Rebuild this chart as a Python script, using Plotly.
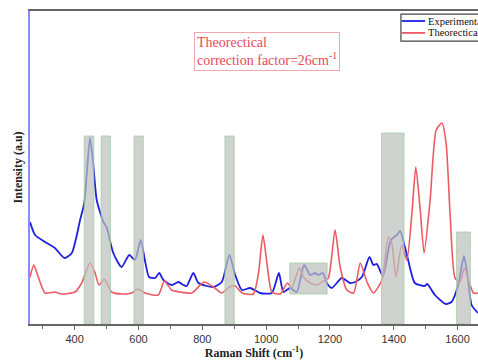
import plotly.graph_objects as go

# Experimental Raman spectrum (wavenumber, intensity in a.u.)
exp_shift = [260, 276, 307, 338, 368, 391, 417, 430, 448, 458, 469, 490, 500, 521, 547,
             571, 589, 607, 620, 633, 652, 665, 678, 704, 725, 741, 751, 772, 788, 835,
             861, 885, 903, 924, 950, 981, 1018, 1040, 1054, 1075, 1096, 1119, 1138, 1153,
             1164, 1178, 1190, 1206, 1237, 1263, 1279, 1300, 1324, 1336, 1347, 1366, 1391,
             1410, 1420, 1435, 1445, 1466, 1497, 1505, 1529, 1563, 1581, 1602, 1620, 1633,
             1644, 1664]
exp_int = [102, 89, 82, 76, 66, 71, 104, 121, 186, 161, 124, 102, 97, 71, 57,
           69, 64, 84, 64, 47, 46, 51, 44, 39, 42, 39, 38, 51, 41, 37,
           42, 69, 49, 34, 36, 31, 31, 51, 32, 36, 32, 59, 49, 51,
           49, 51, 41, 36, 46, 41, 42, 47, 67, 59, 60, 48, 84,
           89, 93, 77, 64, 41, 38, 40, 29, 20, 22, 39, 68, 44,
           19, 11]

# Theoretical (scaled) spectrum
theo_shift = [260, 272, 286, 307, 338, 359, 401, 422, 448, 464, 476, 493, 516, 548, 579,
              598, 620, 662, 681, 704, 730, 767, 806, 835, 861, 885, 903, 924, 960, 976,
              990, 1004, 1018, 1044, 1067, 1080, 1104, 1117, 1138, 1159, 1180, 1195, 1216,
              1232, 1253, 1274, 1295, 1316, 1336, 1363, 1383, 1394, 1407, 1425, 1441, 1457,
              1469, 1483, 1495, 1514, 1533, 1551, 1564, 1577, 1592, 1608, 1621, 1634, 1650,
              1664]
theo_int = [47, 59, 47, 31, 32, 30, 32, 41, 61, 51, 39, 45, 32, 30, 31,
            35, 31, 29, 43, 34, 32, 31, 42, 37, 31, 37, 38, 31, 30, 51,
            89, 57, 32, 30, 41, 36, 56, 47, 41, 39, 43, 46, 94,
            57, 34, 31, 61, 42, 31, 44, 87, 81, 47, 79, 64, 111,
            157, 114, 71, 124, 194, 201, 181, 107, 46, 42, 56, 44, 31,
            31]

# Highlighted matching bands
band_start = [430, 483, 586, 871, 1074, 1362, 1597]
band_end = [460, 512, 615, 900, 1191, 1432, 1640]
band_low = [0, 0, 0, 0, 30, 0, 0]
band_high = [188, 188, 188, 188, 61, 191, 92]

x_ticks = [400, 600, 800, 1000, 1200, 1400, 1600]

series_names = ["Experimental", "Theorectical"]
series_colors = ["#1f1fe0", "#ec5a62"]

SERIF = "Liberation Serif, Times New Roman, serif"
SANS = "Liberation Sans, Arial, sans-serif"

fig = go.Figure()
fig.add_trace(go.Scatter(x=exp_shift, y=exp_int, mode="lines", name=series_names[0],
                         line=dict(color=series_colors[0], width=1.8, shape="spline", smoothing=0.6)))
fig.add_trace(go.Scatter(x=theo_shift, y=theo_int, mode="lines", name=series_names[1],
                         line=dict(color=series_colors[1], width=1.6, shape="spline", smoothing=0.6)))

for x0, x1, y0, y1 in zip(band_start, band_end, band_low, band_high):
    fig.add_shape(type="rect", xref="x", yref="y", x0=x0, x1=x1, y0=y0, y1=y1,
                  fillcolor="rgba(190,192,190,0.72)", layer="above",
                  line=dict(color="rgba(160,205,160,0.8)", width=1))

# Compact boxed key in the top-right corner
fig.add_shape(type="rect", xref="paper", yref="paper", x0=0.828, x1=1.06, y0=0.904, y1=0.990,
              fillcolor="white", line=dict(color="#444", width=1.2), layer="above")
for i, (name, color) in enumerate(zip(series_names, series_colors)):
    yk = 0.968 - i * 0.038
    fig.add_shape(type="line", xref="paper", yref="paper", x0=0.830, x1=0.882, y0=yk, y1=yk,
                  line=dict(color=color, width=1.8), layer="above")
    fig.add_annotation(xref="paper", yref="paper", x=0.883, y=yk, xanchor="left", yanchor="middle",
                       text=name, showarrow=False,
                       font=dict(family=SERIF, size=10.5, color="#111"))

fig.add_annotation(xref="paper", yref="paper", x=0.366, y=0.933, xanchor="left", yanchor="top",
                   text="Theorectical<br>correction factor=26cm<sup>-1</sup>", align="left",
                   showarrow=False, font=dict(family=SERIF, size=14, color="#e8485a"),
                   bordercolor="#f2a6ae", borderwidth=1, borderpad=2, bgcolor="white")

fig.add_annotation(xref="paper", yref="paper", x=-0.027, y=0.5, xanchor="center", yanchor="middle",
                   text="<b>Intensity (a.u)</b>", textangle=-90, showarrow=False,
                   font=dict(family=SERIF, size=12, color="#222"))

fig.update_layout(
    width=478, height=360,
    margin=dict(l=30, r=0, t=11, b=36, autoexpand=False),
    paper_bgcolor="white", plot_bgcolor="white",
    showlegend=False,
    xaxis=dict(range=[260, 1664], tickvals=x_ticks, showgrid=False, zeroline=False,
               showline=True, linecolor="#666", linewidth=1.5, mirror=True,
               ticks="outside", ticklen=4, tickcolor="#666",
               minor=dict(dtick=100, tick0=300, ticks="outside", ticklen=3, tickcolor="#666"),
               tickfont=dict(family=SANS, size=11, color="#333"),
               title=dict(text="<b>Raman Shift (cm<sup>-1</sup>)</b>", standoff=6,
                          font=dict(family=SERIF, size=12, color="#222"))),
    yaxis=dict(range=[0, 313], showticklabels=False, ticks="", showgrid=False, zeroline=False,
               showline=True, linecolor="#8c8cff", linewidth=1.5),
)

fig.write_html("out.html")
